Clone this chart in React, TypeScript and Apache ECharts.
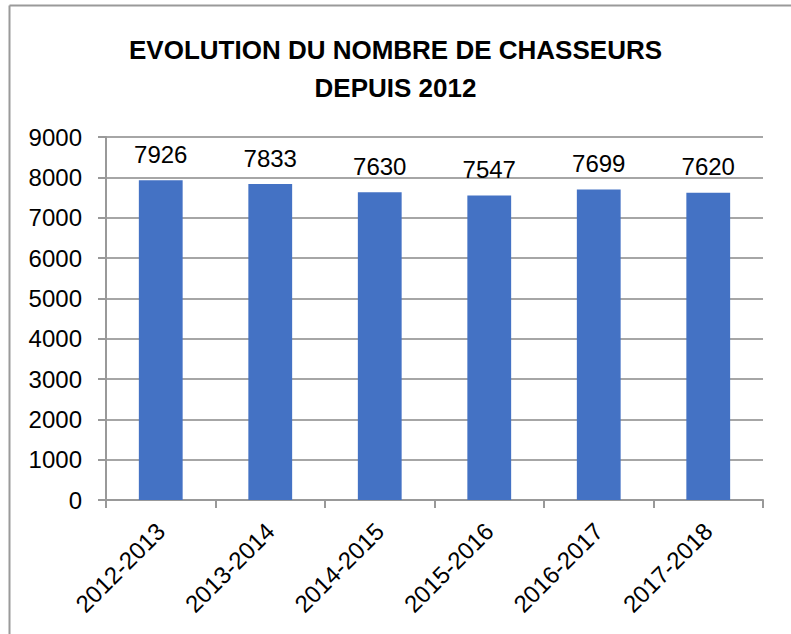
import React, { useEffect, useRef } from "react";
import * as echarts from "echarts";

const categories = ["2012-2013", "2013-2014", "2014-2015", "2015-2016", "2016-2017", "2017-2018"];
const hunters = [7926, 7833, 7630, 7547, 7699, 7620];
const titleLines = ["EVOLUTION DU NOMBRE DE CHASSEURS", "DEPUIS 2012"];

export default function App() {
  const ref = useRef<HTMLDivElement>(null);
  useEffect(() => {
    document.body.style.margin = "0";
    const chart = echarts.init(ref.current!, null, { renderer: "svg" });
    const font = "'Liberation Sans', Arial, sans-serif";
    chart.setOption({
      animation: false,
      backgroundColor: "#ffffff",
      title: {
        text: titleLines.join("\n"),
        left: "center",
        top: 26,
        textStyle: {
          fontFamily: font,
          fontWeight: "bold",
          fontSize: 26,
          lineHeight: 38,
          color: "#000000",
        },
      },
      graphic: [
        { type: "line", shape: { x1: 9.5, y1: 5.5, x2: 791, y2: 5.5 }, style: { stroke: "#9a9a9a", lineWidth: 2 } },
        { type: "line", shape: { x1: 9.5, y1: 5.5, x2: 9.5, y2: 634 }, style: { stroke: "#9a9a9a", lineWidth: 2 } },
      ],
      grid: { left: 106, right: 28, top: 137, bottom: 134, containLabel: false },
      xAxis: {
        type: "category",
        data: categories,
        axisLine: { show: true, lineStyle: { color: "#999999", width: 2 } },
        axisTick: { show: true, length: 8, lineStyle: { color: "#999999", width: 2 } },
        axisLabel: {
          rotate: 45,
          fontFamily: font,
          fontSize: 24,
          color: "#000000",
          margin: 27,
        },
      },
      yAxis: {
        type: "value",
        min: 0,
        max: 9000,
        interval: 1000,
        axisLine: { show: true, lineStyle: { color: "#999999", width: 2 } },
        axisTick: { show: true, length: 8, lineStyle: { color: "#999999", width: 2 } },
        splitLine: { show: true, lineStyle: { color: "#a6a6a6", width: 2 } },
        axisLabel: {
          fontFamily: font,
          fontSize: 24,
          color: "#000000",
          margin: 24,
          formatter: (v: number) => String(v),
        },
      },
      series: [
        {
          type: "bar",
          data: hunters,
          barWidth: "40%",
          itemStyle: { color: "#4472C4" },
          label: {
            show: true,
            position: "top",
            distance: 14,
            fontFamily: font,
            fontSize: 24,
            color: "#000000",
          },
        },
      ],
    });
    return () => chart.dispose();
  }, []);
  return <div ref={ref} style={{ width: 791, height: 634 }} />;
}
